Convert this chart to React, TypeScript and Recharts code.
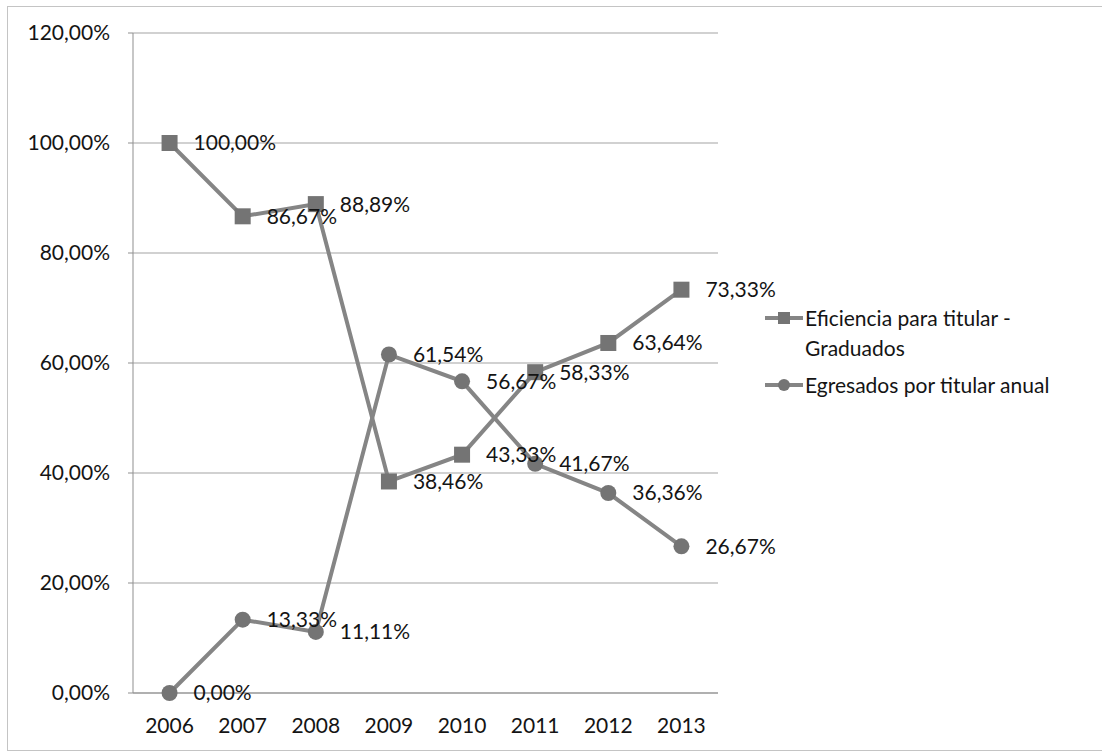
import { LineChart, Line, XAxis, YAxis, CartesianGrid, LabelList, Legend } from 'recharts';

const YEARS = ['2006', '2007', '2008', '2009', '2010', '2011', '2012', '2013'];
const EFICIENCIA = [100, 86.67, 88.89, 38.46, 43.33, 58.33, 63.64, 73.33];
const EGRESADOS = [0, 13.33, 11.11, 61.54, 56.67, 41.67, 36.36, 26.67];
const Y_TICKS = [0, 20, 40, 60, 80, 100, 120];
const EDGE_TICKS = [0, 1, 2, 3, 4, 5, 6, 7, 8];

const SERIES = [
  { key: 'eficiencia', name: 'Eficiencia para titular - Graduados', marker: 'square' },
  { key: 'egresados', name: 'Egresados por titular anual', marker: 'circle' },
];

const data = YEARS.map((year, i) => ({
  year,
  pos: i + 0.5,
  eficiencia: EFICIENCIA[i],
  egresados: EGRESADOS[i],
}));

const FONT = 'Lato, "Open Sans", sans-serif';
const LINE = '#858585';
const MARK = '#747474';
const AXIS = '#8f8f8f';
const TEXT = '#141414';

const pct = (v: number) => v.toFixed(2).replace('.', ',') + '%';

const SquareDot = (props: any) => {
  const { cx, cy, index } = props;
  if (cx == null || cy == null) return null;
  return <rect key={`sq-${index}`} x={cx - 8} y={cy - 8} width={16} height={16} fill={MARK} />;
};

const CircleDot = (props: any) => {
  const { cx, cy, index } = props;
  if (cx == null || cy == null) return null;
  return <circle key={`ci-${index}`} cx={cx} cy={cy} r={8} fill={MARK} />;
};

function LegendBox() {
  return (
    <div style={{ fontFamily: FONT, fontSize: 21, color: TEXT, lineHeight: '30px' }}>
      {SERIES.map((s, i) => (
        <div key={s.key} style={{ display: 'flex', alignItems: 'flex-start', marginTop: i === 0 ? 0 : 7 }}>
          <svg width={38} height={30} style={{ flex: 'none' }}>
            <line x1={0} y1={15} x2={38} y2={15} stroke={LINE} strokeWidth={4} />
            {s.marker === 'square' ? (
              <rect x={13} y={9} width={12} height={12} fill={MARK} />
            ) : (
              <circle cx={19} cy={15} r={6} fill={MARK} />
            )}
          </svg>
          <div style={{ maxWidth: 290, marginLeft: 2 }}>{s.name}</div>
        </div>
      ))}
    </div>
  );
}

export default function App() {
  return (
    <div
      style={{
        position: 'absolute',
        left: 7,
        top: 6,
        width: 1095,
        height: 745,
        border: '1px solid #c4c4c4',
        borderRight: 'none',
        boxSizing: 'border-box',
        background: '#fff',
      }}
    >
      <LineChart
        width={1088}
        height={743}
        data={data}
        margin={{ top: 26, right: 378, bottom: 16, left: 0 }}
        style={{ fontFamily: FONT }}
      >
        <CartesianGrid vertical={false} stroke="#a3a3a3" strokeWidth={1} />
        <XAxis
          xAxisId={0}
          type="number"
          dataKey="pos"
          domain={[0, 8]}
          ticks={EDGE_TICKS}
          tick={false}
          tickSize={6}
          axisLine={{ stroke: AXIS }}
          tickLine={{ stroke: AXIS }}
          height={1}
        />
        <XAxis
          xAxisId="cat"
          dataKey="year"
          scale="band"
          axisLine={false}
          tickLine={false}
          tickMargin={18}
          height={40}
          interval={0}
          tick={{ fill: TEXT, fontSize: 21 }}
        />
        <YAxis
          domain={[0, 120]}
          ticks={Y_TICKS}
          width={125}
          tickSize={5}
          tickMargin={18}
          tickFormatter={pct}
          axisLine={{ stroke: AXIS }}
          tickLine={{ stroke: AXIS }}
          tick={{ fill: TEXT, fontSize: 21 }}
        />
        <Line
          xAxisId="cat"
          dataKey="eficiencia"
          name={SERIES[0].name}
          stroke={LINE}
          strokeWidth={4}
          dot={SquareDot}
          activeDot={false}
          isAnimationActive={false}
        >
          <LabelList dataKey="eficiencia" position="right" offset={24} formatter={(v: any) => pct(Number(v))} fill={TEXT} fontSize={21} />
        </Line>
        <Line
          xAxisId="cat"
          dataKey="egresados"
          name={SERIES[1].name}
          stroke={LINE}
          strokeWidth={4}
          dot={CircleDot}
          activeDot={false}
          isAnimationActive={false}
        >
          <LabelList dataKey="egresados" position="right" offset={24} formatter={(v: any) => pct(Number(v))} fill={TEXT} fontSize={21} />
        </Line>
        <Legend
          layout="vertical"
          align="center"
          verticalAlign="middle"
          content={<LegendBox />}
          wrapperStyle={{ left: 757, top: 296, width: 330, height: 'auto' }}
        />
      </LineChart>
    </div>
  );
}
